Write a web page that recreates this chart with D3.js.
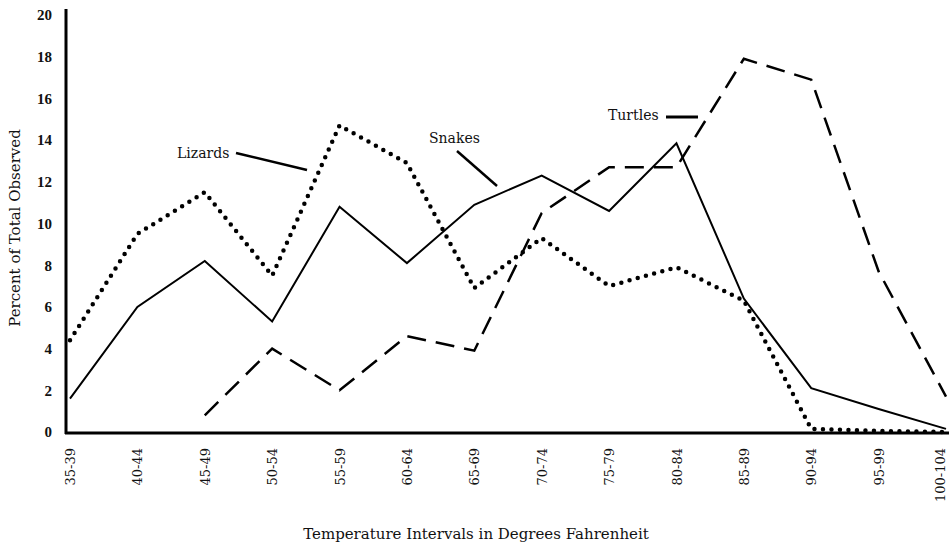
<!DOCTYPE html>
<html><head><meta charset="utf-8">
<script src="https://cdn.jsdelivr.net/npm/d3@7"></script>
<style>
body{margin:0;background:#fff;}
text{font-family:"DejaVu Serif","Liberation Serif",serif;fill:#111;}
</style></head>
<body><svg id="c" width="949" height="547"></svg>
<script>
const categories = ["35-39","40-44","45-49","50-54","55-59","60-64","65-69","70-74","75-79","80-84","85-89","90-94","95-99","100-104"];
const lizards = [4.4, 9.5, 11.5, 7.5, 14.7, 12.9, 6.9, 9.3, 7.0, 7.9, 6.3, 0.15, 0.05, 0];
const snakes  = [1.6, 6.0, 8.2, 5.3, 10.8, 8.1, 10.9, 12.3, 10.6, 13.85, 6.4, 2.1, 1.1, 0.15];
const turtles = [null, null, 0.8, 4.0, 2.0, 4.6, 3.9, 10.5, 12.7, 12.7, 17.9, 16.9, 7.7, 1.7];
const yTicks = [0,2,4,6,8,10,12,14,16,18,20];

const svg = d3.select("#c");
const x = d3.scalePoint().domain(categories).range([70, 946]);
const y = d3.scaleLinear().domain([0,20]).range([432, 15]);

const yAxis = d3.axisLeft(y).tickValues(yTicks).tickSize(0).tickPadding(14);
const gy = svg.append("g").attr("transform","translate(66,0)").call(yAxis);
gy.select(".domain").remove();
gy.selectAll("text").style("font-family","'Liberation Serif',serif").style("font-size","15px")
  .style("font-weight","bold").attr("fill","#111");
svg.append("line").attr("x1",66).attr("x2",66).attr("y1",9).attr("y2",434).attr("stroke","#000").attr("stroke-width",3);

const xAxis = d3.axisBottom(x).tickSize(0).tickPadding(0);
const gx = svg.append("g").attr("transform","translate(0,434)").call(xAxis);
gx.select(".domain").remove();
gx.selectAll("text").attr("transform","rotate(-90)").attr("text-anchor","end")
  .attr("x",-14).attr("y",0).attr("dy","0.35em").style("font-size","13px").attr("fill","#111");
gx.selectAll(".tick").filter(d=>d==="100-104").select("text").attr("y",-6);
svg.append("line").attr("x1",65).attr("x2",949).attr("y1",433).attr("y2",433).attr("stroke","#000").attr("stroke-width",3);

const line = d3.line().defined(d=>d!=null).x((d,i)=>x(categories[i])).y(d=>y(d));

svg.append("path").datum(turtles).attr("d",line).attr("fill","none").attr("stroke","#000")
  .attr("stroke-width",2.5).attr("stroke-dasharray","19 10");
svg.append("path").datum(snakes).attr("d",line).attr("fill","none").attr("stroke","#000")
  .attr("stroke-width",2);
svg.append("path").datum(lizards).attr("d",line).attr("fill","none").attr("stroke","#000")
  .attr("stroke-width",4.5).attr("stroke-linecap","round").attr("stroke-dasharray","0 8.5");

svg.append("text").attr("x",177).attr("y",158).text("Lizards").style("font-size","14px");
svg.append("line").attr("x1",236).attr("y1",153).attr("x2",307).attr("y2",170).attr("stroke","#000").attr("stroke-width",2.5);
svg.append("text").attr("x",429).attr("y",143).text("Snakes").style("font-size","14px");
svg.append("line").attr("x1",457).attr("y1",151).attr("x2",497).attr("y2",186).attr("stroke","#000").attr("stroke-width",2.5);
svg.append("text").attr("x",608).attr("y",120).text("Turtles").style("font-size","14px");
svg.append("line").attr("x1",666).attr("y1",117).attr("x2",698).attr("y2",117).attr("stroke","#000").attr("stroke-width",3);

svg.append("text").attr("transform","translate(20,228) rotate(-90)").attr("text-anchor","middle")
  .style("font-size","15px").text("Percent of Total Observed");
svg.append("text").attr("x",476).attr("y",539).attr("text-anchor","middle")
  .style("font-size","15px").text("Temperature Intervals in Degrees Fahrenheit");
</script></body></html>
